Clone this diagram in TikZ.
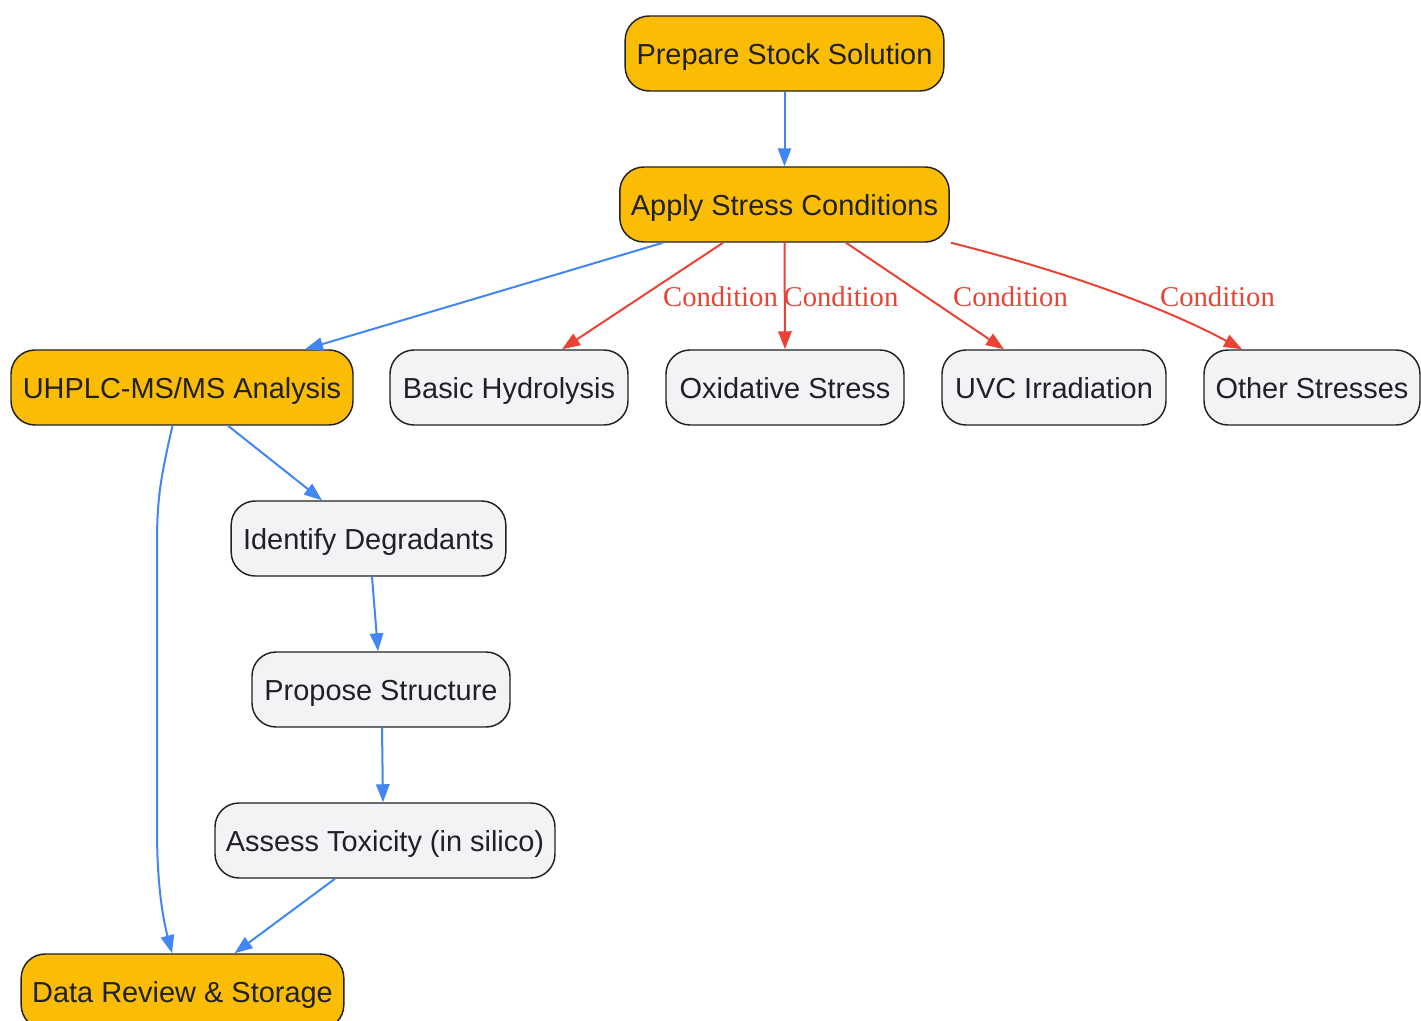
\documentclass[tikz,border=0pt]{standalone}
\usepackage{fontspec}
\setmainfont{Liberation Sans}
\newfontfamily\labelfont{Liberation Serif}
\usepackage{tikz}
\usetikzlibrary{arrows.meta,calc}

\definecolor{mainfill}{HTML}{FBBC05}
\definecolor{stepfill}{HTML}{F1F3F4}
\definecolor{boxline}{HTML}{222222}
\definecolor{boxtext}{HTML}{202124}
\definecolor{flowblue}{HTML}{4285F4}
\definecolor{condred}{HTML}{EA4335}

\begin{document}
\begin{tikzpicture}[x=0.75pt,y=-0.75pt]
    \tikzstyle{basebox} = [rectangle, rounded corners=18pt, draw=boxline, line width=1.1pt, text=boxtext, inner sep=0pt, minimum height=56.25pt, text height=20pt, text depth=2.8pt, font=\fontsize{21.7}{26}\selectfont]
    \tikzstyle{mainbox} = [basebox, fill=mainfill]
    \tikzstyle{stepbox} = [basebox, fill=stepfill]
    \tikzstyle{flowline} = [flowblue, line width=1.5pt, -{Triangle[length=13.5pt, width=10pt]}]
    \tikzstyle{condline} = [condred, line width=1.5pt, -{Triangle[length=13.5pt, width=10pt]}]
    \tikzstyle{condlabel} = [text=condred, inner sep=0pt, font=\labelfont\fontsize{21.5}{26}\selectfont]

    \useasboundingbox (0,0) rectangle (1421,1021);

    % Main steps
    \node[mainbox, minimum width=239pt] (prep) at (784.5,53.5) {Prepare Stock Solution};
    \node[mainbox, minimum width=247pt] (apply) at (784.5,204.5) {Apply Stress Conditions};
    \node[mainbox, minimum width=256.5pt] (uhplc) at (182,387.5) {UHPLC-MS/MS Analysis};
    \node[mainbox, minimum width=242pt] (review) at (182.5,991.5) {Data Review \& Storage};

    % Stress conditions
    \node[stepbox, minimum width=178.5pt] (basic) at (509,387.5) {Basic Hydrolysis};
    \node[stepbox, minimum width=178.5pt] (oxid) at (785,387.5) {Oxidative Stress};
    \node[stepbox, minimum width=168pt] (uvc) at (1054,387.5) {UVC Irradiation};
    \node[stepbox, minimum width=162pt] (other) at (1312,387.5) {Other Stresses};

    % Analysis chain
    \node[stepbox, minimum width=206pt] (ident) at (368.5,538.5) {Identify Degradants};
    \node[stepbox, minimum width=193.5pt] (propose) at (381,689.5) {Propose Structure};
    \node[stepbox, minimum width=255pt] (assess) at (385,840.5) {Assess Toxicity (in silico)};

    % Blue flow
    \draw[flowline] (prep.south) -- (apply.north);
    \draw[flowline] ($(apply.south)+(-121.5,0)$) -- ($(uhplc.north)+(123,0)$);
    \draw[flowline] ($(uhplc.south)+(46,0)$) -- ($(ident.north)+(-46.5,0)$);
    \draw[flowline] ($(ident.south)+(3.5,0)$) -- ($(propose.north)+(-3,0)$);
    \draw[flowline] ($(propose.south)+(1,0)$) -- ($(assess.north)+(-2,0)$);
    \draw[flowline] ($(assess.south)+(-50,0)$) -- ($(review.north)+(52,0)$);
    \draw[flowline] ($(uhplc.south)+(-9.5,0)$) .. controls (160,480) and (157,500) .. (157,545)
        -- (157,830) .. controls (157,880) and (162,915) .. ($(review.north)+(-10.5,0)$);

    % Red condition edges
    \draw[condline] ($(apply.south)+(-61.5,0)$) -- ($(basic.north)+(53,0)$);
    \draw[condline] (apply.south) -- (oxid.north);
    \draw[condline] ($(apply.south)+(61.5,0)$) -- ($(uvc.north)+(-50,0)$);
    \draw[condline] ($(apply.south east)+(1,0)$) .. controls (1040,265) and (1150,300) .. ($(other.north)+(-70,0)$);

    \node[condlabel] (lbasic) at (720.5,297) {Condition};
    \node[condlabel] (loxid) at (841,297) {Condition};
    \node[condlabel] (luvc) at (1010.5,297) {Condition};
    \node[condlabel] (lother) at (1217.5,297) {Condition};
\end{tikzpicture}
\end{document}
